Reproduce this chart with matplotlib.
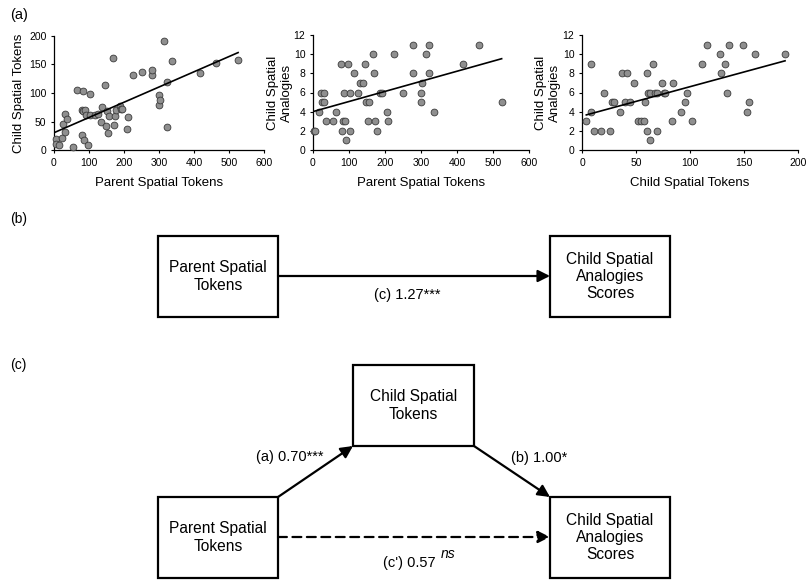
import numpy as np
import matplotlib.pyplot as plt
from matplotlib.patches import Rectangle

plt.rcParams['font.family'] = ['Liberation Sans', 'DejaVu Sans']
narrow = ['Liberation Sans Narrow', 'Liberation Sans', 'DejaVu Sans']

# (a) left: parent spatial tokens vs child spatial tokens
parent_tok_1 = [5, 6, 15, 23, 27, 31, 31, 37, 55, 65, 80, 82, 84, 81, 85, 89, 91, 98, 104, 103,
                117, 125, 133, 138, 147, 148, 152, 155, 156, 169, 170, 173, 178, 189, 191, 194,
                208, 212, 225, 252, 279, 281, 301, 301, 304, 314, 322, 322, 338, 418, 462, 526]
child_tok_1 = [19, 11, 9, 21, 46, 63, 31, 55, 6, 105, 71, 68, 104, 27, 18, 70, 61, 9, 99, 61,
               61, 64, 50, 76, 114, 42, 69, 30, 60, 162, 44, 60, 71, 77, 72, 72,
               37, 58, 131, 137, 131, 140, 97, 79, 87, 192, 119, 40, 156, 135, 152, 158]

# (a) middle: parent spatial tokens vs child spatial analogies
parent_tok_2 = [3, 6, 16, 23, 31, 25, 31, 36, 55, 64, 77, 81, 82, 86, 89, 91, 98, 103, 104, 115,
                126, 131, 138, 145, 148, 156, 153, 167, 170, 172, 178, 187, 192, 206, 209, 224,
                251, 278, 279, 299, 300, 303, 313, 321, 321, 337, 418, 461, 524]
analogies_2 = [2, 2, 4, 6, 6, 5, 5, 3, 3, 4, 9, 2, 3, 6, 3, 1, 9, 6, 2, 8,
               6, 7, 7, 9, 5, 5, 3, 10, 8, 3, 2, 6, 6, 4, 3, 10,
               6, 8, 11, 5, 6, 7, 10, 11, 8, 4, 9, 11, 5]

# (a) right: child spatial tokens vs child spatial analogies
child_tok_3 = [4, 8, 8, 11, 18, 20, 26, 28, 30, 35, 37, 40, 42, 44, 48, 52, 55, 57, 58, 60,
               60, 61, 63, 63, 66, 68, 69, 69, 74, 76, 77, 83, 84, 92, 95, 97, 102, 111, 116, 128,
               129, 132, 134, 136, 149, 153, 155, 160, 188]
analogies_3 = [3, 9, 4, 2, 2, 6, 2, 5, 5, 4, 8, 5, 8, 5, 7, 3, 3, 3, 5, 8,
               2, 6, 6, 1, 9, 6, 6, 2, 7, 6, 6, 3, 7, 4, 5, 6, 3, 9, 11, 10,
               8, 9, 6, 11, 11, 4, 5, 10, 10]

fig = plt.figure(figsize=(8.07, 5.83), dpi=100)
W, H = 807, 583


def px_axes(x0, x1, y0, y1):
    # pixel box (top-left origin) -> figure fraction
    return fig.add_axes([x0 / W, 1 - y1 / H, (x1 - x0) / W, (y1 - y0) / H])


panels = [
    (px_axes(54, 264, 36, 150), parent_tok_1, child_tok_1, 600, 200, 50,
     "Parent Spatial Tokens", "Child Spatial Tokens", -0.165, 0),
    (px_axes(313, 529, 35, 150), parent_tok_2, analogies_2, 600, 12, 2,
     "Parent Spatial Tokens", "Child Spatial\nAnalogies", -0.153, None),
    (px_axes(582, 798, 35, 150), child_tok_3, analogies_3, 200, 12, 2,
     "Child Spatial Tokens", "Child Spatial\nAnalogies", -0.157, None),
]

for ax, x, y, xmax, ymax, ystep, xl, yl, ylx, xfit0 in panels:
    x = np.array(x, float)
    y = np.array(y, float)
    ax.scatter(x, y, s=24, facecolor='#8f8f8f', edgecolor='#3a3a3a', linewidth=0.6,
               zorder=3, clip_on=False)
    m, b = np.polyfit(x, y, 1)
    x0 = x.min() if xfit0 is None else xfit0
    xs = np.array([x0, x.max()])
    ax.plot(xs, m * xs + b, color='black', linewidth=1.2, zorder=4)
    ax.set_xlim(0, xmax)
    ax.set_ylim(0, ymax)
    ax.set_xticks(np.linspace(0, xmax, 7 if xmax == 600 else 5))
    ax.set_yticks(np.arange(0, ymax + 1, ystep))
    ax.tick_params(labelsize=7.5, length=2.5, width=0.8, direction='out', pad=3)
    for s in ['top', 'right']:
        ax.spines[s].set_visible(False)
    for s in ['left', 'bottom']:
        ax.spines[s].set_linewidth(0.9)
    ax.set_xlabel(xl, fontsize=9.5, va='center')
    ax.xaxis.set_label_coords(0.5, -0.29)
    ax.set_ylabel(yl, fontsize=9.5, va='center', linespacing=1.15)
    ax.yaxis.set_label_coords(ylx, 0.5)

# diagram layer in pixel coordinates
dg = fig.add_axes([0, 0, 1, 1], zorder=-1)
dg.set_xlim(0, W)
dg.set_ylim(H, 0)
dg.axis('off')

dg.text(10, 15, "(a)", fontsize=10.5, ha='left', va='center')
dg.text(10, 219, "(b)", fontsize=10, family=narrow, ha='left', va='center')
dg.text(10, 365, "(c)", fontsize=10, family=narrow, ha='left', va='center')

box_font = 11.2
lw = 1.6


def box(x0, y0, x1, y1, label):
    dg.add_patch(Rectangle((x0, y0), x1 - x0, y1 - y0, fill=False, edgecolor='black', linewidth=lw))
    dg.text((x0 + x1) / 2, (y0 + y1) / 2, label, fontsize=box_font, family=narrow,
            ha='center', va='center', linespacing=1.2)


def arrow(x0, y0, x1, y1, ls='-'):
    dg.annotate("", xy=(x1, y1), xytext=(x0, y0),
                arrowprops=dict(arrowstyle='-|>', color='black', lw=lw, linestyle=ls,
                                mutation_scale=18, shrinkA=0, shrinkB=0))


# (b)
box(158, 236, 278, 317, "Parent Spatial\nTokens")
box(550, 236, 670, 317, "Child Spatial\nAnalogies\nScores")
arrow(278, 276, 550, 276)
dg.text(407, 295, "(c) 1.27***", fontsize=10.5, family=narrow, ha='center', va='center')

# (c)
box(353, 365, 474, 446, "Child Spatial\nTokens")
box(158, 497, 278, 578, "Parent Spatial\nTokens")
box(550, 497, 670, 578, "Child Spatial\nAnalogies\nScores")
arrow(278, 497, 353, 446)
arrow(474, 446, 550, 497)
arrow(278, 537, 550, 537, ls=(0, (4, 2.5)))
dg.text(290, 457, "(a) 0.70***", fontsize=10.5, family=narrow, ha='center', va='center')
dg.text(539, 458, "(b) 1.00*", fontsize=10.5, family=narrow, ha='center', va='center')
dg.text(436, 563, "(c') 0.57", fontsize=10.5, family=narrow, ha='right', va='center')
dg.text(441, 554, "ns", fontsize=10, family=narrow, style='italic', ha='left', va='center')

fig.savefig("out.png", dpi=100)
